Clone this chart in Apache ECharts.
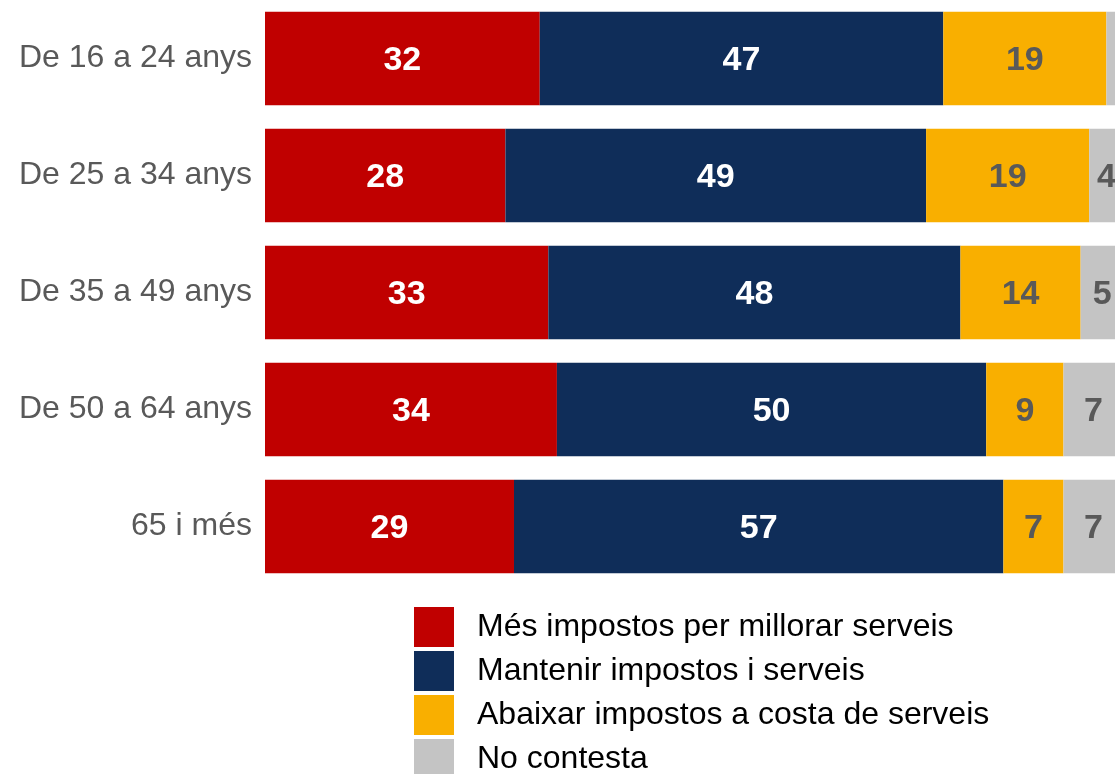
<!DOCTYPE html>
<html>
<head>
<meta charset="utf-8">
<script src="https://cdn.jsdelivr.net/npm/echarts@6/dist/echarts.min.js"></script>
<style>
  html, body { margin: 0; padding: 0; background: #fff; }
  #chart { width: 1115px; height: 774px; }
</style>
</head>
<body>
<div id="chart"></div>
<script>
// grups d'edat
var categories = ["De 16 a 24 anys", "De 25 a 34 anys", "De 35 a 49 anys", "De 50 a 64 anys", "65 i més"];
var seriesNames = ["Més impostos per millorar serveis", "Mantenir impostos i serveis", "Abaixar impostos a costa de serveis", "No contesta"];
var mesImpostos = [32, 28, 33, 34, 29];
var mantenir = [47, 49, 48, 50, 57];
var abaixar = [19, 19, 14, 9, 7];
var noContesta = [2, 4, 5, 7, 7];

var colors = ["#C00000", "#0F2D59", "#F9AF00", "#C4C4C4"];
var labelColors = ["#fff", "#fff", "#595959", "#595959"];
var values = [mesImpostos, mantenir, abaixar, noContesta];

var series = [];
values.forEach(function (vals, i) {
  series.push({
    name: seriesNames[i],
    type: "bar",
    stack: "total",
    clip: false,
    barCategoryGap: "20%",
    itemStyle: { color: colors[i] },
    label: {
      show: true,
      position: "inside",
      offset: [0, 2],
      color: labelColors[i],
      fontSize: 34,
      fontWeight: "bold",
      fontFamily: "'Liberation Sans', Arial, sans-serif",
      formatter: function (p) { return p.value < 3 ? "" : p.value; }
    },
    data: vals
  });
});

var chart = echarts.init(document.getElementById("chart"));
chart.setOption({
  animation: false,
  color: colors,
  // el gràfic original queda tallat per la dreta: l'eix acaba una mica abans de 100
  grid: { left: 265, top: 0, height: 585, right: 0 },
  xAxis: { type: "value", min: 0, max: 99, show: false },
  yAxis: {
    type: "category",
    inverse: true,
    data: categories,
    axisLine: { show: false },
    axisTick: { show: false },
    axisLabel: {
      margin: 13,
      fontSize: 32,
      color: "#595959",
      fontFamily: "'Liberation Sans', Arial, sans-serif"
    }
  },
  legend: {
    orient: "vertical",
    left: 409,
    top: 602,
    height: 250,
    itemWidth: 40,
    itemHeight: 40,
    itemGap: 4,
    icon: "rect",
    padding: 5,
    textStyle: {
      fontSize: 32,
      color: "#000",
      fontFamily: "'Liberation Sans', Arial, sans-serif",
      padding: [0, 0, 0, 18]
    },
    data: seriesNames
  },
  series: series
});
</script>
</body>
</html>
